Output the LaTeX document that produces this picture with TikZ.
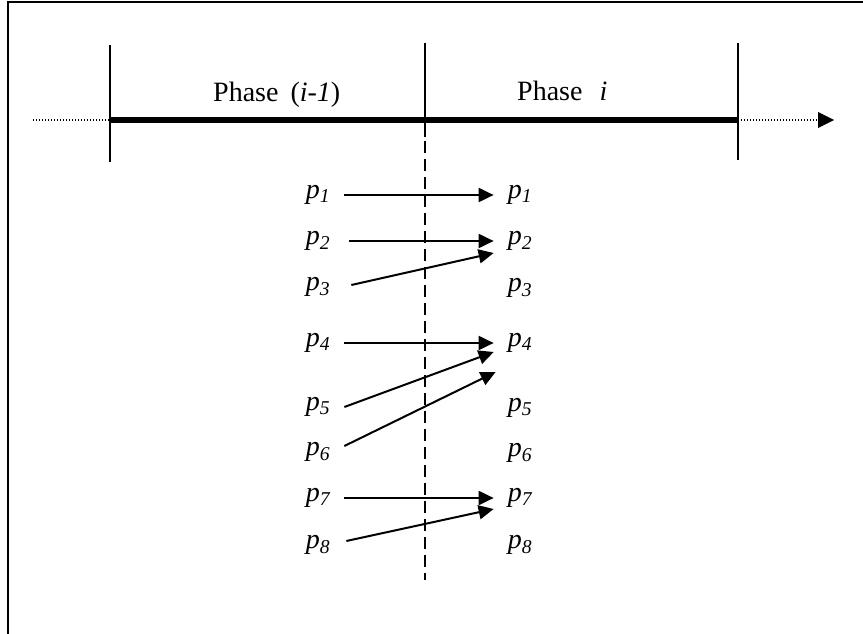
\documentclass[tikz,border=0pt]{standalone}
\usepackage{fontspec}
\setmainfont{Liberation Serif}
\usetikzlibrary{arrows.meta}
\begin{document}
\begin{tikzpicture}[x=1pt,y=-1pt,
  lbl/.style={font=\fontsize{28}{30}\selectfont\itshape, inner ysep=0pt, inner xsep=14pt},
  phase/.style={font=\fontsize{28}{30}\selectfont, inner sep=0pt, anchor=base west},
  conn/.style={line width=2pt, -{Triangle[length=15pt,width=14pt]}},
  tickline/.style={line width=2pt},
  dotline/.style={line width=1.6pt, dash pattern=on 1.4pt off 1.6pt},
  dashline/.style={line width=2pt, dash pattern=on 12pt off 6pt},
  frame/.style={line width=2.2pt}]
\useasboundingbox (0,0) rectangle (863,634);
% frame (top and left edges only)
\draw[frame] (8,634) -- (8,2) -- (863,2);
% axis
\coordinate (a0) at (33,120);
\coordinate (t1) at (110,120);
\coordinate (t2) at (425,120);
\coordinate (t3) at (738,120);
\coordinate (aend) at (834,120);
\draw[dotline] (a0) -- (t1);
\draw[line width=5.5pt] (t1) -- (t3);
\draw[dotline] (t3) -- (819,120);
\draw[line width=0pt, -{Triangle[length=16pt,width=16pt]}] (818,120) -- (aend);
% ticks
\draw[tickline] (110,45) -- (110,162);
\draw[tickline] (425,43) -- (425,137);
\draw[tickline] (738,43) -- (738,160);
\draw[dashline] (425,141) -- (425,580);
% phase labels
\node[phase] (ph1) at (213,102) {Phase\hspace{12pt}(\textit{i-1})};
\node[phase] (ph2) at (517,100) {Phase\hspace{17pt}\textit{i}};
% left labels
\node[lbl] (L1) at (318,195) {p\textsubscript{1}};
\node[lbl] (L2) at (318,241) {p\textsubscript{2}};
\node[lbl] (L3) at (318,287) {p\textsubscript{3}};
\node[lbl] (L4) at (318,343) {p\textsubscript{4}};
\node[lbl] (L5) at (318,407) {p\textsubscript{5}};
\node[lbl] (L6) at (318,452) {p\textsubscript{6}};
\node[lbl] (L7) at (318,498) {p\textsubscript{7}};
\node[lbl] (L8) at (318,545) {p\textsubscript{8}};
% right labels
\node[lbl] (R1) at (520,195) {p\textsubscript{1}};
\node[lbl] (R2) at (520,241) {p\textsubscript{2}};
\node[lbl] (R3) at (520,288) {p\textsubscript{3}};
\node[lbl] (R4) at (520,343) {p\textsubscript{4}};
\node[lbl] (R5) at (520,408) {p\textsubscript{5}};
\node[lbl] (R6) at (520,453) {p\textsubscript{6}};
\node[lbl] (R7) at (520,498) {p\textsubscript{7}};
\node[lbl] (R8) at (520,545) {p\textsubscript{8}};
% connectors
\draw[conn] (L1.east) -- (R1.west);
\draw[conn] ([xshift=5pt]L2.east) -- (R2.west);
\draw[conn] ([xshift=7pt,yshift=2pt]L3.east) -- ([yshift=-12pt]R2.west);
\draw[conn] (L4.east) -- (R4.west);
\draw[conn] (L5.east) -- ([yshift=-9pt]R4.west);
\draw[conn] ([yshift=6pt]L6.east) -- ([xshift=2pt,yshift=-29pt]R4.west);
\draw[conn] (L7.east) -- (R7.west);
\draw[conn] ([xshift=2pt,yshift=4pt]L8.east) -- ([yshift=-11pt]R7.west);
\end{tikzpicture}
\end{document}
